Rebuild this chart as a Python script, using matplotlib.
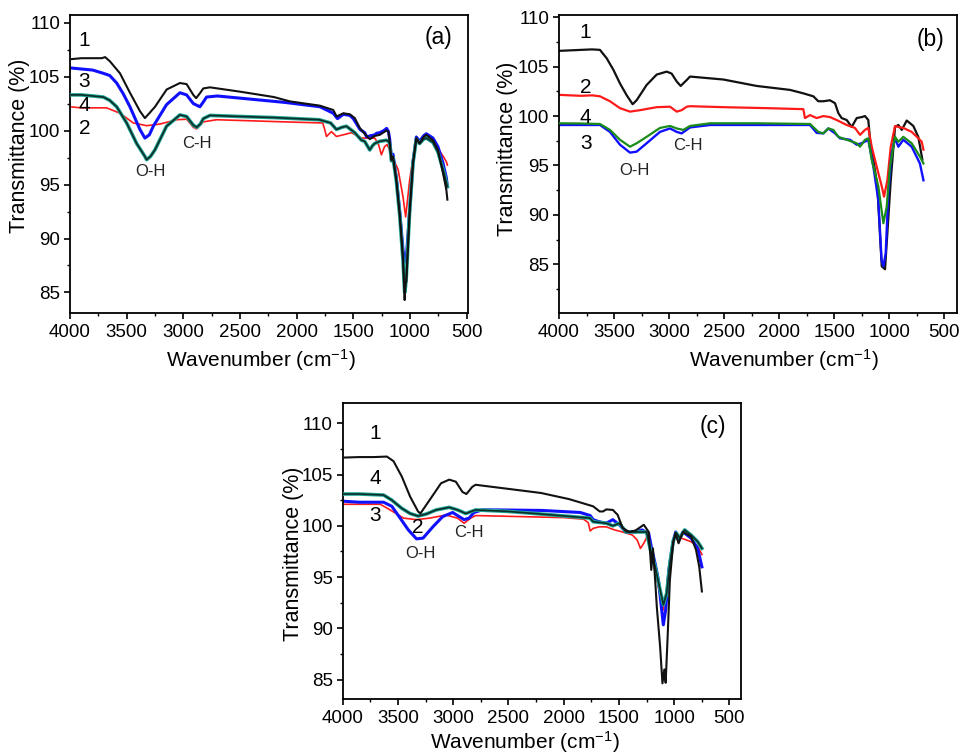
import numpy as np
import matplotlib
matplotlib.use("Agg")
import matplotlib.pyplot as plt
from matplotlib.ticker import MultipleLocator, FixedLocator

plt.rcParams['font.family'] = ['Liberation Sans', 'DejaVu Sans']
plt.rcParams['mathtext.fontset'] = 'custom'
plt.rcParams['mathtext.rm'] = 'Liberation Sans'
plt.rcParams['mathtext.it'] = 'Liberation Sans:italic'
plt.rcParams['axes.linewidth'] = 1.2

# ---------------- data: (wavenumber cm-1, transmittance %) ----------------
# Panel (a)
a1 = [(4000,106.6),(3900,106.7),(3800,106.7),(3720,106.7),(3690,106.8),(3647,106.4),(3559,105.3),
      (3471,103.5),(3383,101.8),(3339,101.15),(3300,101.6),(3250,102.2),(3147,103.8),(3030,104.4),
      (2971,104.3),(2912,103.3),(2887,103.0),(2850,103.5),(2824,103.9),(2765,104.0),(2500,103.6),
      (2200,103.1),(2060,102.7),(1794,102.3),(1677,101.9),(1647,101.3),(1588,101.6),(1530,101.5),
      (1487,101.15),(1441,100.2),(1399,99.7),(1355,99.2),(1311,99.5),(1267,99.6),(1208,100.0),
      (1190,99.9),(1179,99.0),(1164,97.3),(1150,97.6),(1120,95.4),(1091,92.3),(1062,88.3),
      (1047,84.3),(1040,85.8),(1032,86.0),(1003,92.4),(973,97.0),(944,99.3),(915,98.8),(880,99.4),
      (856,99.6),(797,99.1),(753,98.2),(709,96.1),(679,94.5),(670,93.6)]
a2 = [(4000,102.2),(3900,102.1),(3800,102.1),(3676,102.1),(3559,101.6),(3441,100.7),(3324,100.45),
      (3206,100.6),(3059,101.0),(2971,101.05),(2912,100.3),(2882,100.15),(2824,100.8),(2707,101.0),
      (2400,100.9),(2100,100.8),(1770,100.7),(1755,100.2),(1737,99.45),(1693,99.9),(1649,99.45),
      (1590,99.6),(1517,99.8),(1428,99.3),(1311,99.3),(1280,98.8),(1252,97.75),(1225,98.5),
      (1202,98.7),(1180,98.2),(1164,97.75),(1105,96.4),(1062,93.9),(1038,92.0),(1003,95.4),
      (973,97.5),(944,99.1),(915,98.9),(880,99.2),(856,99.3),(797,99.0),(738,98.1),(700,97.5),
      (679,97.1),(670,96.8)]
a3 = [(4000,105.8),(3900,105.7),(3800,105.6),(3706,105.3),(3650,105.1),(3588,104.4),(3530,103.4),
      (3471,102.2),(3383,100.1),(3339,99.3),(3300,99.6),(3265,100.4),(3148,102.4),(3030,103.5),
      (2971,103.3),(2912,102.5),(2854,102.2),(2820,102.7),(2795,103.1),(2700,103.2),(2400,102.9),
      (2100,102.6),(1794,102.2),(1677,101.6),(1640,101.1),(1588,101.5),(1530,101.4),(1500,101.1),
      (1441,100.1),(1399,99.8),(1382,99.4),(1355,99.5),(1311,99.6),(1294,99.75),(1267,99.8),
      (1230,100.0),(1206,100.2),(1190,99.9),(1179,99.2),(1164,97.5),(1150,97.8),(1120,95.6),
      (1091,92.6),(1062,89.0),(1047,87.8),(1032,88.2),(1003,92.6),(973,97.1),(944,99.4),(915,99.0),
      (880,99.5),(856,99.7),(797,99.3),(753,98.5),(709,97.0),(679,95.6),(670,94.8)]
a4 = [(4000,103.3),(3900,103.3),(3800,103.2),(3706,103.1),(3650,102.8),(3588,102.2),(3500,100.7),
      (3412,98.8),(3339,97.6),(3324,97.3),(3290,97.6),(3251,98.2),(3148,100.4),(3030,101.45),
      (2971,101.3),(2912,100.5),(2882,100.3),(2850,100.6),(2824,101.1),(2765,101.4),(2500,101.3),
      (2200,101.2),(1800,101.0),(1700,100.7),(1649,100.1),(1600,100.3),(1561,100.4),(1487,99.8),
      (1428,99.1),(1400,99.0),(1355,98.2),(1330,98.6),(1311,98.8),(1267,99.0),(1208,99.1),
      (1190,99.0),(1179,98.8),(1164,97.2),(1150,97.5),(1120,95.3),(1091,92.2),(1062,88.0),
      (1047,85.0),(1040,85.5),(1032,86.5),(1003,92.5),(973,97.0),(944,99.2),(915,98.8),(880,99.2),
      (856,99.3),(797,98.9),(753,98.0),(709,96.4),(679,95.2),(670,94.8)]

# Panel (b)
b1 = [(4000,106.6),(3900,106.65),(3800,106.7),(3700,106.75),(3628,106.7),(3567,105.85),(3507,104.7),
      (3446,103.3),(3385,102.1),(3331,101.2),(3295,101.6),(3204,103.15),(3113,104.2),(3022,104.5),
      (2977,104.3),(2931,103.5),(2895,103.05),(2840,103.65),(2810,104.0),(2507,103.7),(2205,103.05),
      (1902,102.65),(1781,102.3),(1690,102.0),(1645,101.5),(1599,101.5),(1539,101.6),(1493,101.3),
      (1463,100.3),(1433,99.8),(1387,99.6),(1342,98.9),(1296,99.8),(1250,99.9),(1221,100.0),
      (1191,99.6),(1175,97.6),(1145,95.6),(1109,92.9),(1069,84.8),(1039,84.5),(1018,88.1),
      (987,93.5),(948,98.9),(918,99.1),(887,98.6),(842,99.55),(782,99.0),(737,97.9),(700,95.6)]
b2 = [(4000,102.15),(3900,102.1),(3800,102.05),(3700,102.1),(3628,102.0),(3537,101.5),(3446,100.8),
      (3355,100.45),(3264,100.6),(3113,100.9),(2992,100.95),(2931,100.45),(2886,100.6),(2840,100.95),
      (2810,101.0),(2500,100.9),(2100,100.8),(1781,100.7),(1766,99.8),(1720,100.1),(1660,99.8),
      (1599,100.0),(1539,99.9),(1478,99.6),(1387,99.1),(1312,98.8),(1266,98.1),(1221,98.6),
      (1191,98.8),(1160,96.9),(1115,94.9),(1069,92.9),(1048,91.85),(1018,93.5),(987,96.9),
      (948,99.0),(918,98.9),(873,98.8),(797,98.4),(740,97.8),(706,97.4),(690,96.6)]
b3 = [(4000,99.1),(3800,99.1),(3628,99.1),(3537,98.4),(3446,97.1),(3355,96.3),(3295,96.4),
      (3204,97.25),(3083,98.4),(2992,98.75),(2931,98.4),(2886,98.25),(2810,98.85),(2628,99.1),
      (2200,99.1),(1720,99.1),(1660,98.3),(1599,98.25),(1554,98.75),(1493,98.25),(1448,97.75),
      (1357,97.6),(1296,97.1),(1251,97.25),(1191,97.6),(1145,94.9),(1100,91.5),(1070,85.4),
      (1054,84.8),(1033,86.1),(1009,92.2),(979,96.2),(948,97.75),(918,96.9),(873,97.6),(797,96.9),
      (722,95.2),(690,93.5)]
b4 = [(4000,99.27),(3800,99.25),(3628,99.2),(3537,98.6),(3446,97.6),(3355,96.9),(3295,97.25),
      (3204,97.9),(3083,98.8),(2992,99.0),(2931,98.75),(2871,98.6),(2810,99.0),(2628,99.27),
      (2200,99.27),(1720,99.2),(1645,98.4),(1599,98.25),(1554,98.75),(1508,98.6),(1463,97.9),
      (1387,97.6),(1296,97.25),(1266,96.9),(1221,97.6),(1191,97.75),(1160,95.6),(1100,92.9),
      (1054,89.15),(1024,90.8),(994,94.9),(948,97.9),(918,97.4),(873,97.9),(797,97.25),(722,95.9),
      (690,95.2)]

# Panel (c)
c1 = [(4000,106.65),(3850,106.7),(3720,106.7),(3600,106.75),(3540,106.3),(3465,104.8),(3390,102.85),
      (3318,101.4),(3297,101.2),(3214,102.5),(3110,104.15),(3036,104.5),(2976,104.3),(2916,103.3),
      (2880,103.1),(2827,103.8),(2797,104.0),(2500,103.6),(2205,103.2),(1950,102.6),(1733,101.9),
      (1674,101.4),(1644,101.4),(1614,101.6),(1555,101.55),(1511,101.06),(1467,99.8),(1407,99.4),
      (1349,99.55),(1275,100.1),(1230,99.4),(1207,95.7),(1192,97.8),(1172,94.7),(1157,92.1),
      (1127,88.2),(1106,84.65),(1089,86.0),(1077,84.7),(1059,89.2),(1039,94.7),(1009,98.3),
      (989,99.3),(960,98.3),(920,99.4),(847,98.95),(802,97.65),(773,96.0),(749,93.6)]
c2 = [(4000,102.1),(3850,102.1),(3660,102.1),(3570,101.55),(3450,100.75),(3332,100.6),(3214,100.75),
      (3065,101.05),(2961,100.75),(2901,100.25),(2842,100.75),(2797,101.0),(2400,100.9),(2000,100.8),
      (1821,100.65),(1777,100.3),(1760,99.5),(1733,99.75),(1680,99.9),(1615,99.9),(1540,99.6),
      (1467,99.4),(1378,99.1),(1334,98.6),(1305,97.8),(1275,98.3),(1245,98.95),(1216,97.8),
      (1172,95.7),(1127,93.1),(1098,91.8),(1068,93.75),(1048,95.9),(1009,98.3),(980,99.3),
      (935,98.8),(847,98.45),(787,98.0),(749,97.2)]
c3 = [(4000,102.4),(3850,102.3),(3630,102.3),(3555,101.9),(3480,100.75),(3406,99.6),(3332,98.73),
      (3273,98.8),(3184,99.9),(3095,100.9),(3005,101.3),(2946,100.9),(2901,100.6),(2856,100.75),
      (2812,101.3),(2738,101.55),(2600,101.55),(2200,101.5),(1850,101.3),(1760,101.0),(1733,100.6),
      (1680,100.4),(1615,100.25),(1555,100.6),(1496,100.1),(1437,99.4),(1349,99.4),(1290,99.6),
      (1230,99.25),(1201,97.65),(1172,96.3),(1142,94.7),(1119,92.4),(1098,90.35),(1077,91.8),
      (1048,95.7),(1009,98.5),(986,99.4),(960,98.6),(920,99.4),(847,98.8),(787,97.8),(749,96.0)]
c4 = [(4000,103.1),(3850,103.1),(3630,103.0),(3555,102.5),(3465,101.7),(3390,101.2),(3318,100.95),
      (3243,101.15),(3154,101.55),(3036,101.8),(2961,101.55),(2886,101.2),(2797,101.55),(2500,101.4),
      (2205,101.15),(1762,100.75),(1733,100.4),(1614,100.25),(1555,100.0),(1496,100.25),(1437,99.4),
      (1349,99.4),(1290,99.4),(1250,99.4),(1216,97.7),(1172,96.0),(1127,93.75),(1098,92.3),
      (1068,93.4),(1039,96.3),(1009,98.5),(980,99.3),(950,98.8),(905,99.6),(847,99.1),(787,98.45),
      (749,97.8)]

panel_tags = ["(a)", "(b)", "(c)"]
x_ticks = [4000, 3500, 3000, 2500, 2000, 1500, 1000, 500]
y_ticks = [85, 90, 95, 100, 105, 110]
x_label = "Wavenumber (cm$^{-1}$)"
y_label = "Transmittance (%)"
band_labels = ["O-H", "C-H"]

# ---------------- styles ----------------
BLACK = "#111111"
RED = "#ff1a1a"
BLUE = "#1010ff"
GREEN = "#1a8c1a"
TEAL = "#1fa595"
TEAL_CORE = "#0c2d28"


def xy(d):
    arr = np.array(d, dtype=float)
    return arr[:, 0], arr[:, 1]


def plot_teal(ax, d):
    x, y = xy(d)
    ax.plot(x, y, color=TEAL, lw=2.6, solid_joinstyle='round', zorder=3)
    ax.plot(x, y, color=TEAL_CORE, lw=1.2, solid_joinstyle='round', zorder=3.1)


def style(ax, xlim, ylim):
    ax.set_xlim(*xlim)
    ax.set_ylim(*ylim)
    ax.xaxis.set_major_locator(FixedLocator(x_ticks))
    ax.xaxis.set_minor_locator(MultipleLocator(250))
    ax.yaxis.set_major_locator(FixedLocator(y_ticks))
    ax.yaxis.set_minor_locator(MultipleLocator(2.5))
    ax.tick_params(axis='both', which='major', direction='out', length=4, width=1.2,
                   labelsize=13.5, top=False, right=False)
    ax.tick_params(axis='x', which='major', pad=4.0)
    ax.tick_params(axis='y', which='major', pad=3.0)
    ax.tick_params(axis='both', which='minor', direction='out', length=2.5, width=1.0,
                   top=False, right=False)
    for s in ax.spines.values():
        s.set_linewidth(1.3)
    ax.set_xlabel(x_label, fontsize=15)
    ax.set_ylabel(y_label, fontsize=15.5)


fig = plt.figure(figsize=(9.68, 7.55), dpi=100)
axa = fig.add_axes([0.07231, 0.58543, 0.41116, 0.39470])
axb = fig.add_axes([0.57748, 0.58543, 0.41085, 0.39470])
axc = fig.add_axes([0.35403, 0.07377, 0.41147, 0.39285])

NUM_FS = 15
BAND_FS = 12
TAG_FS = 16.5
BAND_COLOR = '#222222'

# ---- (a)
ax = axa
x, y = xy(a2); ax.plot(x, y, color=RED, lw=1.2, zorder=2)
x, y = xy(a3); ax.plot(x, y, color=BLUE, lw=2.2, zorder=2.5)
plot_teal(ax, a4)
x, y = xy(a1); ax.plot(x, y, color=BLACK, lw=1.5, zorder=4)
style(ax, (4000, 488), (83.1, 110.7))
ax.xaxis.set_label_coords(0.479, -0.113)
ax.yaxis.set_label_coords(-0.100, 0.56)
ax.text(3874, 108.3, "1", fontsize=NUM_FS, ha='center', va='center')
ax.text(3874, 104.5, "3", fontsize=NUM_FS, ha='center', va='center')
ax.text(3874, 102.3, "4", fontsize=NUM_FS, ha='center', va='center')
ax.text(3874, 100.2, "2", fontsize=NUM_FS, ha='center', va='center')
ax.text(3294, 96.2, band_labels[0], fontsize=BAND_FS, ha='center', va='center', color=BAND_COLOR)
ax.text(2877, 98.8, band_labels[1], fontsize=BAND_FS, ha='center', va='center', color=BAND_COLOR)
ax.text(0.925, 0.923, panel_tags[0], transform=ax.transAxes, fontsize=TAG_FS, ha='center', va='center')

# ---- (b)
ax = axb
x, y = xy(b1); ax.plot(x, y, color=BLACK, lw=1.6, zorder=2)
x, y = xy(b2); ax.plot(x, y, color=RED, lw=1.6, zorder=2.2)
x, y = xy(b3); ax.plot(x, y, color=BLUE, lw=1.7, zorder=2.4)
x, y = xy(b4); ax.plot(x, y, color=GREEN, lw=1.6, zorder=2.6)
style(ax, (4000, 388), (80.07, 110.23))
ax.xaxis.set_label_coords(0.566, -0.113)
ax.yaxis.set_label_coords(-0.104, 0.55)
ax.text(3764, 108.5, "1", fontsize=NUM_FS, ha='center', va='center')
ax.text(3755, 102.9, "2", fontsize=NUM_FS, ha='center', va='center')
ax.text(3764, 99.9, "4", fontsize=NUM_FS, ha='center', va='center')
ax.text(3755, 97.2, "3", fontsize=NUM_FS, ha='center', va='center')
ax.text(3316, 94.5, band_labels[0], fontsize=BAND_FS, ha='center', va='center', color=BAND_COLOR)
ax.text(2826, 97.0, band_labels[1], fontsize=BAND_FS, ha='center', va='center', color=BAND_COLOR)
ax.text(0.935, 0.919, panel_tags[1], transform=ax.transAxes, fontsize=TAG_FS, ha='center', va='center')

# ---- (c)
ax = axc
x, y = xy(c2); ax.plot(x, y, color=RED, lw=1.2, zorder=2)
x, y = xy(c3); ax.plot(x, y, color=BLUE, lw=2.2, zorder=2.5)
plot_teal(ax, c4)
x, y = xy(c1); ax.plot(x, y, color=BLACK, lw=1.5, zorder=4)
style(ax, (4000, 395), (83.09, 112.0))
ax.xaxis.set_label_coords(0.458, -0.100)
ax.yaxis.set_label_coords(-0.097, 0.49)
ax.text(3708, 109.0, "1", fontsize=NUM_FS, ha='center', va='center')
ax.text(3708, 104.6, "4", fontsize=NUM_FS, ha='center', va='center')
ax.text(3708, 101.0, "3", fontsize=NUM_FS, ha='center', va='center')
ax.text(3318, 99.8, "2", fontsize=NUM_FS, ha='center', va='center')
ax.text(3295, 97.26, band_labels[0], fontsize=BAND_FS, ha='center', va='center', color=BAND_COLOR)
ax.text(2860, 99.3, band_labels[1], fontsize=BAND_FS, ha='center', va='center', color=BAND_COLOR)
ax.text(0.93, 0.919, panel_tags[2], transform=ax.transAxes, fontsize=TAG_FS, ha='center', va='center')

fig.savefig("out.png", dpi=100)
